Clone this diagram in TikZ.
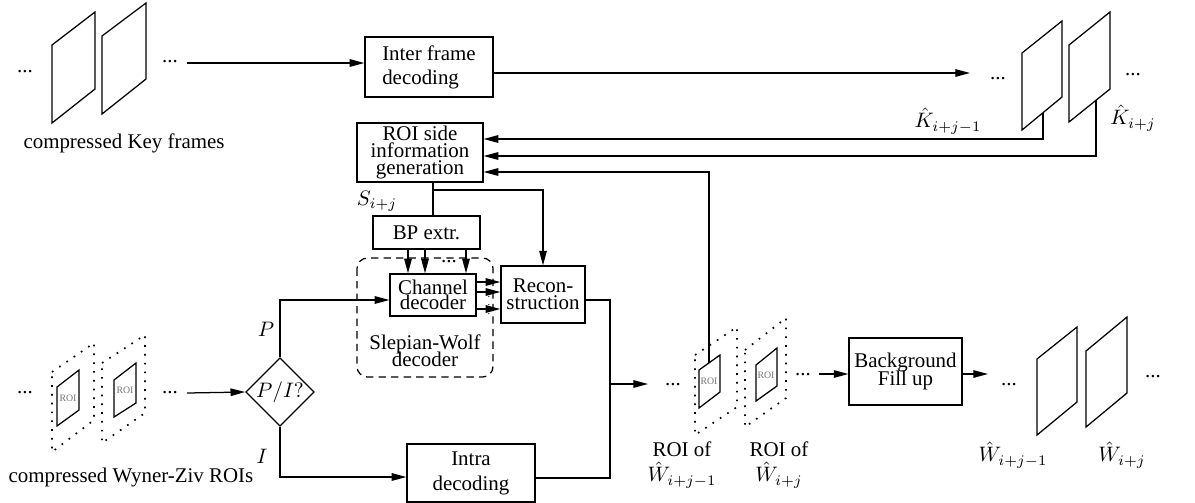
\documentclass[tikz,border=0pt]{standalone}
\usepackage{fontspec}
\setmainfont{Liberation Serif}
\usetikzlibrary{shapes.geometric,arrows.meta}
\newcommand\bxfont[1]{\fontsize{10}{#1}\selectfont\lineskiplimit=-10pt\relax}

\begin{document}
\begin{tikzpicture}[x=0.478pt, y=-0.478pt, line width=0.6pt,
    >={Triangle[length=7pt,width=3.6pt]},
    blk/.style={draw, inner sep=0pt, align=center},
    dotfrm/.style={line width=0.8pt, dash pattern=on 0.8pt off 3.4pt},
    roitxt/.style={font=\fontsize{4.7}{5}\selectfont, text=black!55, inner sep=0pt},
    lbl/.style={inner sep=0pt}]
    \useasboundingbox (0,0) rectangle (1195,502);

    % compressed key frames
    \node[lbl] (kd1) at (25,72) {...};
    \draw (52,45) -- (95,12) -- (95,89) -- (52,123) -- cycle;
    \draw (102,36) -- (146,3) -- (146,79) -- (102,114) -- cycle;
    \node[lbl] (kd2) at (170,62) {...};
    \node[lbl] (klab) at (124,143) {compressed Key frames};
    \coordinate (kin) at (187,63);

    % inter frame decoding
    \node[blk, align=left, font=\bxfont{11.5}, minimum width=61.2pt, minimum height=28.7pt]
        (inter) at (429,67) {Inter frame\\decoding};
    \coordinate (kout) at (970,73);

    % decoded key frames
    \node[lbl] (kd3) at (998,79) {...};
    \draw (1022,53) -- (1062,21) -- (1062,97) -- (1022,130) -- cycle;
    \draw (1069,45) -- (1110,12) -- (1110,89) -- (1069,122) -- cycle;
    \node[lbl] (kd4) at (1133,75) {...};
    \node[lbl] (k1lab) at (948,121) {$\hat{K}_{i+j-1}$};
    \node[lbl] (k2lab) at (1133,118) {$\hat{K}_{i+j}$};
    \coordinate (k1b) at (1043,113);
    \coordinate (k2b) at (1096,100);

    % side information
    \node[blk, font=\bxfont{7.9}, minimum width=60.2pt, minimum height=28.2pt]
        (roi) at (420,152.5) {ROI side\\information\\generation};
    \node[lbl] (slab) at (377,201) {$S_{i+j}$};
    \coordinate (sij) at (433,190);
    \node[blk, minimum width=51.1pt, minimum height=15.8pt] (bp) at (426.5,232.5) {BP extr.};

    % Slepian-Wolf decoder
    \draw[dash pattern=on 3.5pt off 2.5pt, rounded corners=5pt] (357,258) rectangle (493,377);
    \node[blk, font=\bxfont{7.2}, minimum width=41.1pt, minimum height=20.1pt]
        (chd) at (433,295) {Channel\\decoder};
    \node[lbl, align=center, font=\bxfont{8.1}] (swlab) at (425,351) {Slepian-Wolf\\decoder};
    \node[lbl] (bpdots) at (449,262) {...};
    \node[lbl, font=\tiny] (chdots) at (489,299) {$\vdots$};
    \node[blk, font=\bxfont{8.1}, minimum width=40.2pt, minimum height=27.2pt]
        (rec) at (543,294.5) {Recon-\\struction};

    % compressed Wyner-Ziv ROIs
    \node[lbl] (wd1) at (25,393) {...};
    \draw[dotfrm] (52,372) -- (94,343) -- (94,420) -- (52,452) -- cycle;
    \draw (57,387) -- (79,370) -- (79,410) -- (57,426) -- cycle;
    \node[roitxt] (r1) at (68,398) {ROI};
    \draw[dotfrm] (102,363) -- (145,335) -- (145,413) -- (102,443) -- cycle;
    \draw (114,380) -- (136,363) -- (136,403) -- (114,417) -- cycle;
    \node[roitxt] (r2) at (125,390) {ROI};
    \node[lbl] (wd2) at (170,393) {...};
    \node[lbl] (wlab) at (131,477) {compressed Wyner-Ziv ROIs};
    \coordinate (wzin) at (187,393);

    % mode decision and intra decoding
    \node[draw, diamond, inner sep=0pt, minimum width=32pt, minimum height=32pt]
        (dia) at (280,392) {$P/I?$};
    \node[lbl] (plab) at (266,329) {$P$};
    \node[lbl] (ilab) at (262,456) {$I$};
    \node[blk, font=\bxfont{12}, minimum width=61.2pt, minimum height=27.7pt]
        (intra) at (471,473) {Intra\\decoding};
    \coordinate (mrg) at (610,384);
    \coordinate (wout) at (648,384);

    % decoded ROIs
    \node[lbl] (rd1) at (673,385) {...};
    \draw[dotfrm] (695,355) -- (737,327) -- (737,407) -- (695,435) -- cycle;
    \draw (699,370) -- (720,355) -- (720,392) -- (699,408) -- cycle;
    \node[roitxt] (r3) at (709,381) {ROI};
    \draw[dotfrm] (745,350) -- (786,318) -- (786,398) -- (745,427) -- cycle;
    \draw (756,365) -- (777,348) -- (777,386) -- (756,401) -- cycle;
    \node[roitxt] (r4) at (766,375) {ROI};
    \node[lbl] (rd2) at (803,375) {...};
    \node[lbl, align=center, font=\bxfont{12}] (r1lab) at (682,465) {ROI of\\$\hat{W}_{i+j-1}$};
    \node[lbl, align=center, font=\bxfont{12}] (r2lab) at (779,465) {ROI of\\$\hat{W}_{i+j}$};
    \coordinate (w1t) at (709,363);
    \coordinate (rin) at (819,374);

    % background fill up
    \node[blk, font=\bxfont{8.6}, minimum width=54pt, minimum height=32pt]
        (bg) at (905.5,371.5) {Background\\Fill up};
    \coordinate (bgout) at (988,374);
    \node[lbl] (fd1) at (1009,385) {...};
    \draw (1037,359) -- (1077,327) -- (1077,402) -- (1037,435) -- cycle;
    \draw (1086,351) -- (1127,317) -- (1127,393) -- (1086,427) -- cycle;
    \node[lbl] (fd2) at (1153,377) {...};
    \node[lbl] (f1lab) at (1013,455) {$\hat{W}_{i+j-1}$};
    \node[lbl] (f2lab) at (1122,455) {$\hat{W}_{i+j}$};

    % connectors
    \draw[->] (kin) -- (kin -| inter.west);
    \draw[->] (inter.east |- kout) -- (kout);
    \draw[->] (k1b) |- (roi.east |- 0,139);
    \draw[->] (k2b) |- (roi.east |- 0,156);
    \draw[->] (w1t) |- (roi.east |- 0,172);
    \draw (roi.south -| sij) -- (bp.north -| sij);
    \draw[->] (sij) -| (rec.north);
    \draw[->] (bp.south -| 408,0) -- (chd.north -| 408,0);
    \draw[->] (bp.south -| 425,0) -- (chd.north -| 425,0);
    \draw[->] (bp.south -| 466,0) -- (chd.north -| 466,0);
    \draw[->] (chd.east |- 0,282) -- (rec.west |- 0,282);
    \draw[->] (chd.east |- 0,292) -- (rec.west |- 0,292);
    \draw[->] (chd.east |- 0,309) -- (rec.west |- 0,309);
    \draw[->] (wzin) -- (dia.west);
    \draw[->] (dia.north) |- (chd.west |- 0,300);
    \draw[->] (dia.south) |- (intra.west |- 0,477);
    \draw (rec.east |- 0,300) -| (mrg);
    \draw (intra.east |- 0,478) -| (mrg);
    \draw[->] (mrg) -- (wout);
    \draw[->] (rin) -- (bg.west |- rin);
    \draw[->] (bg.east |- bgout) -- (bgout);
\end{tikzpicture}
\end{document}
